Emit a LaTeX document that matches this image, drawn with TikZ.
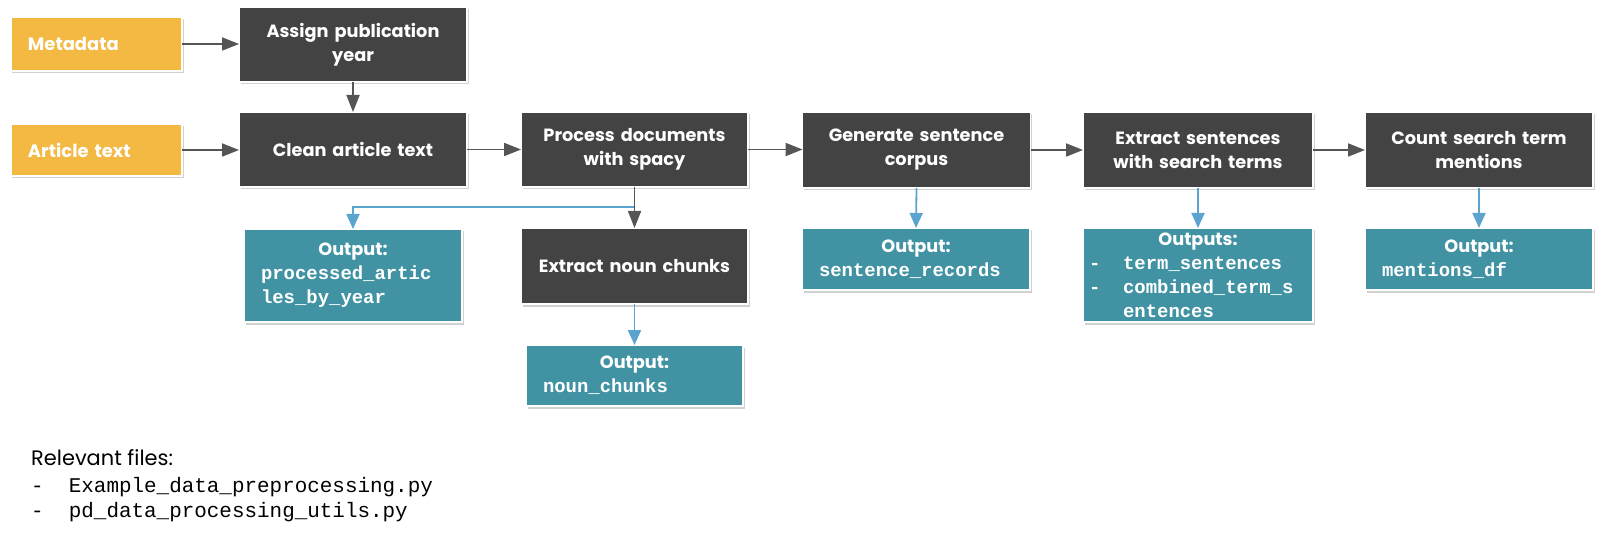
\documentclass[tikz,border=0pt]{standalone}
\usepackage{fontspec}
\setmainfont{Poppins}
\setmonofont{Liberation Mono}
\usetikzlibrary{shadows,arrows.meta}
\definecolor{inorange}{HTML}{F4B942}
\definecolor{stepdark}{HTML}{434343}
\definecolor{outteal}{HTML}{4193A4}
\definecolor{bluearr}{HTML}{5BA4CF}
\definecolor{darkarr}{HTML}{555555}
\newcommand\cd[1]{{\ttfamily\bfseries\fontsize{19}{24}\selectfont #1}}
\newcommand\cdr[1]{{\ttfamily\fontsize{21}{26}\selectfont #1}}
\begin{document}
\begin{tikzpicture}[x=1bp,y=-1bp,
 basebox/.style={draw=white, line width=1.5bp, text=white,
   drop shadow={shadow xshift=1.5bp, shadow yshift=-2.5bp, opacity=0.3, fill=black!60},
   inner ysep=0pt, outer sep=0pt},
 inbox/.style={basebox, fill=inorange, minimum height=54bp, text width=137bp, inner xsep=17bp,
   align=left, font=\fontsize{18}{24}\selectfont\bfseries},
 stepbox/.style={basebox, fill=stepdark, minimum height=75bp, text width=212bp, inner xsep=8bp,
   align=center, font=\fontsize{17.8}{24}\selectfont\bfseries},
 outbox/.style={basebox, fill=outteal, align=left, inner xsep=17bp,
   font=\fontsize{17.8}{24}\selectfont\bfseries},
 flowarrow/.style={draw=darkarr, line width=1.8bp, -{Triangle[length=17bp,width=13bp]}},
 outarrow/.style={draw=bluearr, line width=1.8bp, -{Triangle[length=15bp,width=13bp]}},
]
\useasboundingbox (0,0) rectangle (1602,536);

% inputs
\node[inbox] (meta) at (96.5,44) {Metadata};
\node[inbox, minimum height=52bp] (art) at (96.5,150) {Article text};

% steps
\node[stepbox] (assign) at (353,44.5) {Assign publication\\year};
\node[stepbox] (clean) at (353,149.5) {Clean article text};
\node[stepbox, text width=211bp] (proc) at (634.5,149.5) {Process documents\\with spacy};
\node[stepbox, text width=211bp, minimum height=76bp] (noun) at (634.5,266) {Extract noun chunks};
\node[stepbox, minimum height=76bp] (gen) at (916.5,150) {Generate sentence\\corpus};
\node[stepbox, text width=214bp, minimum height=76bp] (ext) at (1198,150) {Extract sentences\\with search terms};
\node[stepbox, minimum height=76bp] (count) at (1479,150) {Count search term\\mentions};

% outputs
\node[outbox, text width=184bp, minimum height=93bp] (o1) at (353,275.5)
  {\makebox[\hsize]{Output:}\\\cd{processed\_artic}\\\cd{les\_by\_year}};
\node[outbox, text width=183bp, minimum height=61bp] (onoun) at (634.5,375.5)
  {\makebox[\hsize]{Output:}\\\cd{noun\_chunks}};
\node[outbox, text width=194bp, minimum height=62bp] (osent) at (916,259)
  {\makebox[\hsize]{Output:}\\\cd{sentence\_records}};
\node[outbox, inner xsep=6bp, text width=218bp, minimum height=94bp] (oext) at (1198,275)
  {\makebox[\hsize]{Outputs:}\\\cd{-\phantom{xx}term\_sentences}\\\cd{-\phantom{xx}combined\_term\_s}\\\cd{\phantom{-xx}entences}};
\node[outbox, text width=194bp, minimum height=62bp] (ocount) at (1479,259)
  {\makebox[\hsize]{Output:}\\\cd{mentions\_df}};

% connectors
\draw[flowarrow] (meta.east) -- (meta.east -| assign.west);
\draw[flowarrow] (art.east) -- (art.east -| clean.west);
\draw[flowarrow] (assign.south) -- (clean.north);
\draw[flowarrow] (clean.east) -- (proc.west);
\draw[flowarrow] (proc.east) -- (proc.east -| gen.west);
\draw[flowarrow] (gen.east) -- (gen.east -| ext.west);
\draw[flowarrow] (ext.east) -- (ext.east -| count.west);
\coordinate (branch) at (proc.south |- 0,207);
\draw[outarrow] (branch) -| (o1.north);
\draw[flowarrow] (proc.south) -- (noun.north);
\draw[outarrow] (noun.south) -- (onoun.north);
\draw[outarrow] (gen.south) -- (osent.north);
\draw[outarrow] (ext.south) -- (oext.north);
\draw[outarrow] (count.south) -- (ocount.north);

% relevant files
\node[anchor=north west, align=left, inner sep=0pt, font=\fontsize{21}{26}\selectfont] (files) at (31,449)
  {Relevant files:\\[1bp]\cdr{-\phantom{xx}Example\_data\_preprocessing.py}\\\cdr{-\phantom{xx}pd\_data\_processing\_utils.py}};
\end{tikzpicture}
\end{document}
